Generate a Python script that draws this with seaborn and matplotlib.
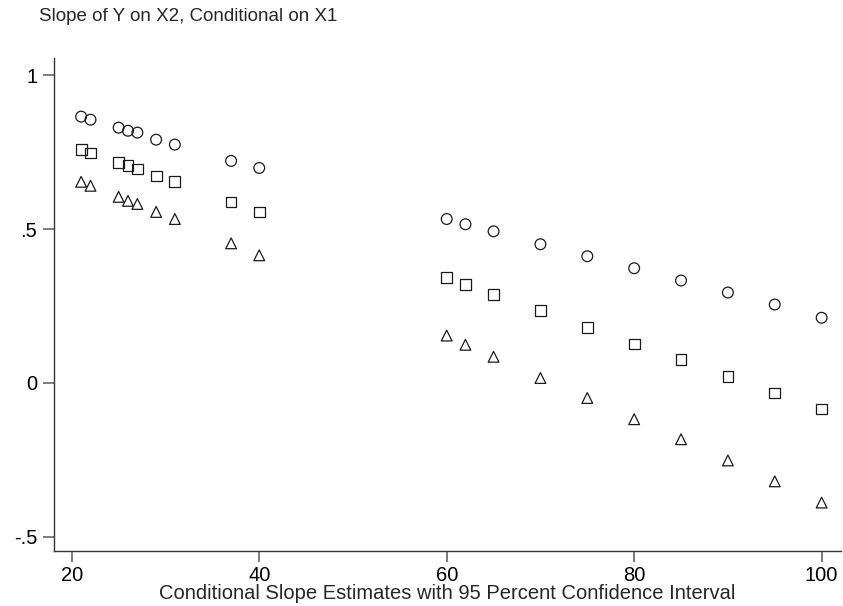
import matplotlib
matplotlib.use("Agg")
import matplotlib.pyplot as plt
import seaborn as sns
import pandas as pd

x1_values = [21, 22, 25, 26, 27, 29, 31, 37, 40, 60, 62, 65, 70, 75, 80, 85, 90, 95, 100]
upper_ci = [0.866, 0.856, 0.830, 0.820, 0.814, 0.791, 0.775, 0.722, 0.699,
            0.533, 0.516, 0.493, 0.451, 0.412, 0.373, 0.333, 0.294, 0.255, 0.212]
estimate = [0.758, 0.748, 0.716, 0.706, 0.696, 0.673, 0.654, 0.588, 0.556,
            0.343, 0.320, 0.288, 0.235, 0.180, 0.127, 0.075, 0.020, -0.033, -0.085]
lower_ci = [0.654, 0.641, 0.605, 0.592, 0.582, 0.556, 0.533, 0.454, 0.415,
            0.154, 0.124, 0.085, 0.016, -0.049, -0.118, -0.183, -0.252, -0.320, -0.389]
series_names = ["Upper", "Estimate", "Lower"]
xticks = [20, 40, 60, 80, 100]
yticks = [-0.5, 0, 0.5, 1]
ytick_labels = ["-.5", "0", ".5", "1"]

df = pd.concat([
    pd.DataFrame({"x": x1_values, "y": vals, "series": name})
    for name, vals in zip(series_names, [upper_ci, estimate, lower_ci])
])

sns.set_style("white")
plt.rcParams["font.family"] = ["Liberation Sans", "DejaVu Sans"]

fig = plt.figure(figsize=(8.43, 6.06), dpi=100)
ax = fig.add_axes([0.064, 0.091, 0.934, 0.813])

sns.scatterplot(data=df, x="x", y="y", style="series",
                markers={"Upper": "o", "Estimate": "s", "Lower": "^"},
                style_order=series_names, s=60, facecolor="none",
                edgecolor="#1a1a1a", linewidth=0.9, legend=False, ax=ax)

ax.set_xlim(18.1, 102.1)
ax.set_ylim(-0.546, 1.056)
ax.set_xticks(xticks)
ax.set_xticklabels([str(t) for t in xticks])
ax.set_yticks(yticks)
ax.set_yticklabels(ytick_labels)
ax.tick_params(axis="both", which="major", bottom=True, left=True,
               direction="out", length=8, width=1.2, color="#666666",
               labelsize=14.5, labelcolor="black", pad=3)
ax.tick_params(axis="y", pad=4)

for side in ["top", "right"]:
    ax.spines[side].set_visible(False)
for side in ["left", "bottom"]:
    ax.spines[side].set_color("#333333")
    ax.spines[side].set_linewidth(1.0)

ax.set_xlabel("Conditional Slope Estimates with 95 Percent Confidence Interval",
              fontsize=14.5, labelpad=-1)
ax.set_ylabel("")
fig.text(0.046, 0.973, "Slope of Y on X2, Conditional on X1", fontsize=13.5,
         ha="left", va="center")

fig.savefig("out.png", dpi=100)
